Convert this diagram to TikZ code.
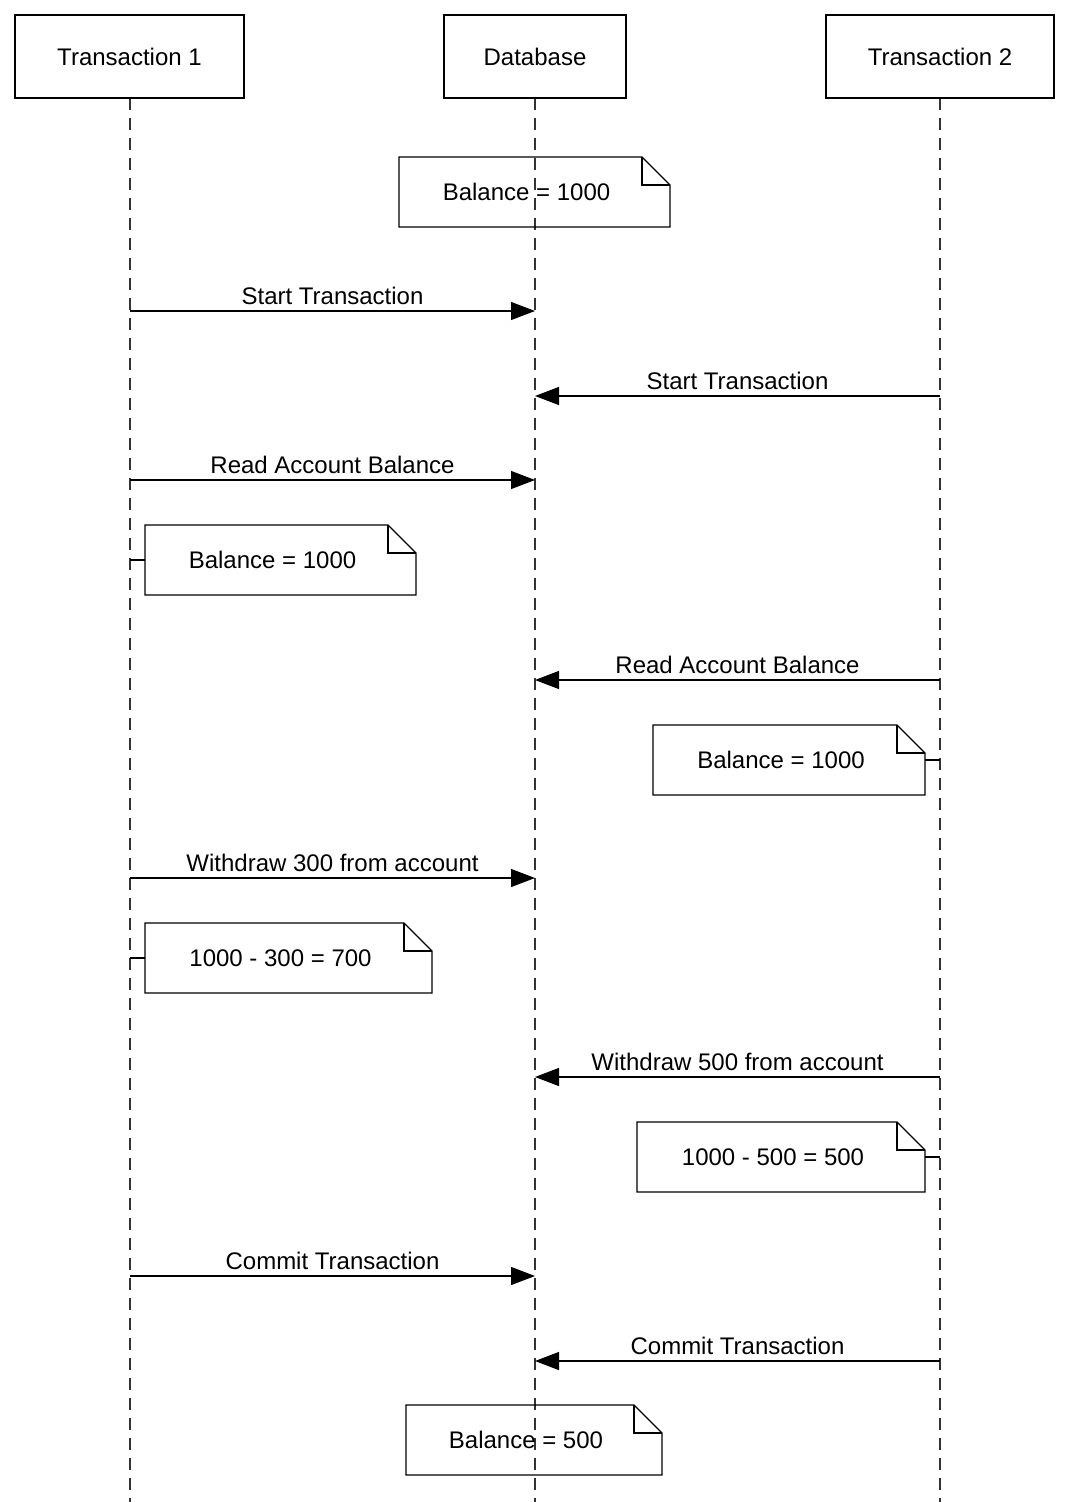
\documentclass[tikz,border=0pt]{standalone}
\usepackage{fontspec}
\setmainfont{Liberation Sans}
\usetikzlibrary{arrows.meta}
\begin{document}
\begin{tikzpicture}[x=0.75pt,y=-0.75pt,
  hdr/.style={draw,line width=2.2pt,minimum width=172pt,minimum height=62pt,inner sep=0pt},
  life/.style={line width=0.9pt,dash pattern=on 9pt off 6pt,draw=black!80},
  msg/.style={line width=0.9pt,-{Triangle[length=18pt,width=13.5pt]}},
  lbl/.style={font=\fontsize{18}{20}\selectfont},
  stub/.style={line width=0.9pt}]
\useasboundingbox (0,0) rectangle (1066,1502);
\fill[white] (0,0) rectangle (1066,1502);
\newcommand{\mynote}[6]{% name x1 y1 x2 y2 text
  \draw[line width=0.9pt] (#2,#3) -- ({#4-28},#3) -- (#4,{#3+28}) -- (#4,#5) -- (#2,#5) -- cycle;
  \draw[line width=0.9pt] ({#4-28},#3) -- ({#4-28},{#3+28}) -- (#4,{#3+28});
  \node[lbl,minimum width={(#4-#2)*0.75pt},minimum height={(#5-#3)*0.75pt},inner sep=0pt] (#1) at ({(#2+#4)/2-8},{(#3+#5)/2}) {#6};}
% lifelines
\coordinate (e1) at (130,1502); \coordinate (e2) at (535,1502); \coordinate (e3) at (940,1502);
\draw[life] (130,98) -- (e1);
\draw[life] (535,98) -- (e2);
\draw[life] (940,98) -- (e3);
\node[hdr,lbl,minimum width={229*0.75pt},minimum height={83*0.75pt}] (t1) at (129.5,56.5) {Transaction 1};
\node[hdr,lbl,minimum width={182*0.75pt},minimum height={83*0.75pt}] (db) at (535,56.5) {Database};
\node[hdr,lbl,minimum width={228*0.75pt},minimum height={83*0.75pt}] (t2) at (940,56.5) {Transaction 2};
% notes
\mynote{n1}{399}{157}{670}{227}{Balance = 1000}
\mynote{n2}{145}{525}{416}{595}{Balance = 1000}
\mynote{n3}{653}{725}{925}{795}{Balance = 1000}
\mynote{n4}{145}{923}{432}{993}{1000 - 300 = 700}
\mynote{n5}{637}{1122}{925}{1192}{1000 - 500 = 500}
\mynote{n6}{406}{1405}{662}{1475}{Balance = 500}
% stubs
\coordinate (s2) at (130,560); \coordinate (s2b) at (145,560); \draw[stub] (s2) -- (s2b);
\coordinate (s3) at (940,760); \coordinate (s3b) at (925,760); \draw[stub] (s3) -- (s3b);
\coordinate (s4) at (130,958); \coordinate (s4b) at (145,958); \draw[stub] (s4) -- (s4b);
\coordinate (s5) at (940,1157); \coordinate (s5b) at (925,1157); \draw[stub] (s5) -- (s5b);
% messages
\foreach \i/\y/\t in {a/311/Start Transaction, b/480/Read Account Balance, c/878/Withdraw 300 from account, d/1276/Commit Transaction}{
  \coordinate (\i1) at (130,\y); \coordinate (\i2) at (535,\y);
  \draw[msg] (\i1) -- (\i2) node[lbl,midway,above=1pt] {\t};}
\foreach \i/\y/\t in {e/396/Start Transaction, f/680/Read Account Balance, g/1077/Withdraw 500 from account, h/1361/Commit Transaction}{
  \coordinate (\i1) at (940,\y); \coordinate (\i2) at (535,\y);
  \draw[msg] (\i1) -- (\i2) node[lbl,midway,above=1pt] {\t};}
\end{tikzpicture}
\end{document}
